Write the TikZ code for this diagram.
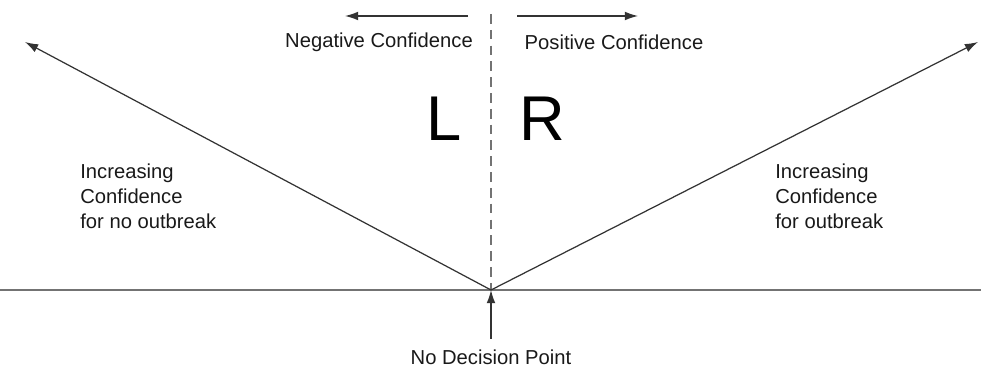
\documentclass[tikz,border=0pt]{standalone}
\usepackage{fontspec}
\setmainfont{Liberation Sans}
\usetikzlibrary{arrows.meta, positioning}

\begin{document}
\begin{tikzpicture}[
    x=0.02cm, y=-0.02cm,
    lbl/.style={font=\fontsize{11.5}{14.2}\selectfont, text=black!90, inner sep=0pt, align=left},
    side/.style={font=\fontsize{36}{40}\selectfont, inner sep=0pt},
    axis/.style={draw=black!55, line width=0.8pt},
    divider/.style={draw=black!55, line width=0.8pt, dash pattern=on 5.5pt off 3.5pt},
    arrow/.style={-{Latex[length=7.5pt,width=5pt]}, draw=black!80, line width=0.7pt}
]
\useasboundingbox (0,0) rectangle (981,367);

% key points
\coordinate (o) at (491,290);
\coordinate (hl) at (0,290);
\coordinate (hr) at (981,290);
\coordinate (dtop) at (491,14);
\coordinate (lend) at (25,42);
\coordinate (rend) at (978,42);
\coordinate (ndtail) at (491,339);
\coordinate (negtail) at (468,16);
\coordinate (neghead) at (345,16);
\coordinate (postail) at (517,16);
\coordinate (poshead) at (638,16);

% labels
\node[lbl] (neg) at (379,42) {Negative Confidence};
\node[lbl] (pos) at (614,42) {Positive Confidence};
\node[side] (left) at (444,119) {L};
\node[side] (right) at (542,119) {R};
\node[lbl, anchor=west] (noout) at (80,196) {Increasing\\Confidence\\for no outbreak};
\node[lbl, anchor=west] (out) at (775,196) {Increasing\\Confidence\\for outbreak};
\node[lbl] (nd) at (491,357) {No Decision Point};

% lines
\draw[axis] (hl) -- (hr);
\draw[divider] (dtop) -- (o);
\draw[arrow] (o) -- (lend);
\draw[arrow] (o) -- (rend);
\draw[arrow] (ndtail) -- (o);
\draw[arrow] (negtail) -- (neghead);
\draw[arrow] (postail) -- (poshead);
\end{tikzpicture}
\end{document}
